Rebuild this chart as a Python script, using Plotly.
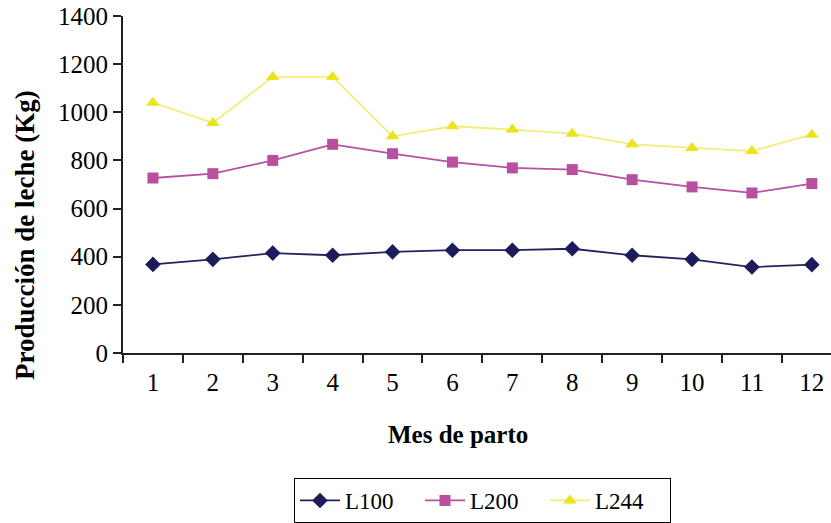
import plotly.graph_objects as go

# Mes de parto (1-12) and milk production per lactation group (kg)
meses = list(range(1, 13))
mes_labels = [str(m) for m in meses]
l100 = [368, 389, 415, 406, 420, 427, 427, 433, 406, 389, 357, 367]
l200 = [727, 745, 800, 867, 828, 793, 769, 762, 720, 690, 665, 704]
l244 = [1040, 956, 1147, 1147, 900, 942, 928, 911, 867, 852, 839, 907]
y_ticks = [0, 200, 400, 600, 800, 1000, 1200, 1400]

FONT = "Liberation Serif, Times New Roman, serif"

fig = go.Figure()

fig.add_trace(go.Scatter(
    x=meses, y=l100, name="L100", mode="lines+markers",
    line=dict(color="#23235f", width=1.8),
    marker=dict(symbol="diamond", size=12, color="#1c1c5a"),
))
fig.add_trace(go.Scatter(
    x=meses, y=l200, name="L200", mode="lines+markers",
    line=dict(color="#b84fa2", width=1.8),
    marker=dict(symbol="square", size=11, color="#b8509f"),
))
fig.add_trace(go.Scatter(
    x=meses, y=l244, name="L244", mode="lines+markers",
    line=dict(color="#f3ee7a", width=1.8),
    marker=dict(symbol="triangle-up", size=12, color="#ece31c"),
))

fig.update_layout(
    width=831, height=523,
    margin=dict(l=123, r=0, t=16, b=170),
    paper_bgcolor="white", plot_bgcolor="white",
    font=dict(family=FONT, size=25, color="black"),
    showlegend=True,
    legend=dict(
        orientation="h", x=0.2415, y=-0.372, xanchor="left", yanchor="top",
        bordercolor="black", borderwidth=1,
        font=dict(family=FONT, size=23, color="black"),
        itemwidth=40, entrywidth=70, tracegroupgap=0,
    ),
    xaxis=dict(
        range=[0.5, 12.32], tickmode="array", tickvals=meses, ticktext=mes_labels,
        ticks="outside", ticklen=6, tickcolor="rgba(0,0,0,0)",
        showline=True, linecolor="#222", linewidth=2, showgrid=False, zeroline=False,
        tickfont=dict(family=FONT, size=25),
        minor=dict(tickmode="array", tickvals=[m - 0.5 for m in meses],
                   ticks="outside", ticklen=8, tickwidth=2, tickcolor="#222"),
    ),
    yaxis=dict(
        range=[0, 1400], tickmode="array", tickvals=y_ticks,
        ticks="outside", ticklen=8, tickwidth=2, tickcolor="#222",
        showline=True, linecolor="#222", linewidth=2, showgrid=False, zeroline=False,
        tickfont=dict(family=FONT, size=25),
    ),
    annotations=[
        dict(text="<b>Mes de parto</b>", xref="paper", yref="paper",
             x=0.473, y=-0.242, xanchor="center", yanchor="middle",
             showarrow=False, font=dict(family=FONT, size=25)),
        dict(text="<b>Producción de leche (Kg)</b>", xref="paper", yref="paper",
             x=-0.1384, y=0.35, xanchor="center", yanchor="middle", textangle=-90,
             showarrow=False, font=dict(family=FONT, size=27)),
    ],
)

fig.write_html("out.html")
